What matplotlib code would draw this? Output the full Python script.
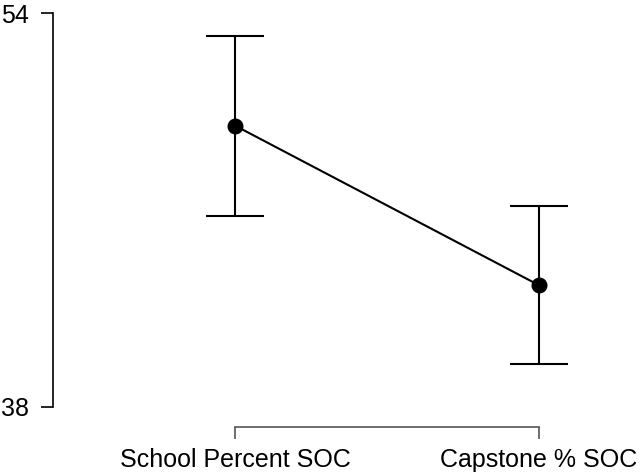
import matplotlib.pyplot as plt

plt.rcParams['font.family'] = ['Liberation Sans', 'DejaVu Sans']

# descriptives plot: mean with confidence interval
conditions = ['School Percent SOC', 'Capstone % SOC']
means = [49.43, 42.94]
ci_lower = [45.77, 39.72]
ci_upper = [53.09, 46.16]

xs = list(range(len(conditions)))
err = [[m - lo for m, lo in zip(means, ci_lower)],
       [hi - m for m, hi in zip(means, ci_upper)]]

fig = plt.figure(figsize=(6.42, 4.73), dpi=100)
ax = fig.add_axes([0.0826, 0.1402, 1 - 0.0826, 0.9719 - 0.1402])

ax.errorbar(xs, means, yerr=err, color='black', lw=1.5, capsize=21,
            capthick=1.5, zorder=2, fmt='none')
ax.plot(xs, means, color='black', lw=1.5, marker='o', ms=10.5, zorder=3)

ax.set_ylim(38, 54)
ax.set_yticks([38, 54])
ax.set_xlim(-0.599, 1.339)
ax.set_xticks(xs)
ax.set_xticklabels(conditions)

for s in ['top', 'right']:
    ax.spines[s].set_visible(False)
ax.spines['left'].set_linewidth(1.2)
ax.spines['bottom'].set_position(('outward', 14.4))
ax.spines['bottom'].set_bounds(0, 1)
ax.spines['bottom'].set_color('#555555')
ax.spines['bottom'].set_linewidth(1.2)

ax.tick_params(axis='y', length=8.6, width=1.2, pad=9, labelsize=18)
ax.tick_params(axis='x', length=8.6, width=1.2, color='#555555', pad=7,
               labelsize=18)

fig.savefig('out.png', dpi=100)
